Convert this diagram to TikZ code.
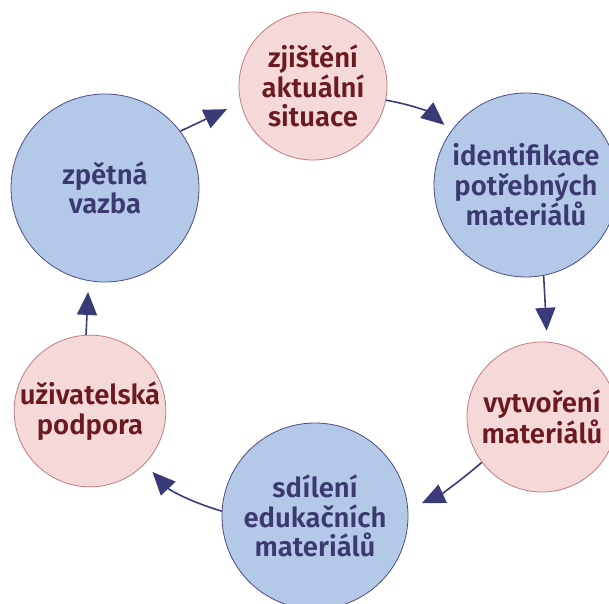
\documentclass[tikz,border=0pt]{standalone}
\usepackage{fontspec}
\setmainfont{Fira Sans}[BoldFont={Fira Sans SemiBold}]
\usetikzlibrary{arrows.meta}
\definecolor{pinkfill}{HTML}{F5D8D8}
\definecolor{pinkdraw}{HTML}{C47A7E}
\definecolor{pinktext}{HTML}{6B1A20}
\definecolor{bluefill}{HTML}{B4C8E8}
\definecolor{bluedraw}{HTML}{4C4C86}
\definecolor{bluetext}{HTML}{3A3970}
\definecolor{arrowcol}{HTML}{3B3A78}
\begin{document}
\begin{tikzpicture}[x=1pt,y=1pt,
  bubble/.style={circle, minimum size=#1, inner sep=0pt, align=center,
    line width=0.8pt, font=\fontsize{27.5}{29.5}\selectfont\bfseries},
  pinknode/.style={bubble=#1, fill=pinkfill, draw=pinkdraw, text=pinktext},
  bluenode/.style={bubble=#1, fill=bluefill, draw=bluedraw, text=bluetext},
  arr/.style={draw=arrowcol, line width=1.6pt,
    -{Triangle[length=23pt,width=20pt]}}
]
\useasboundingbox (0,0) rectangle (609,603);
\node[pinknode=148pt] (A) at (313,517) {zjištění\\aktuální\\situace};
\node[bluenode=184pt] (B) at (526,418) {identifikace\\potřebných\\materiálů};
\node[pinknode=150pt] (C) at (542,186) {vytvoření\\materiálů};
\node[bluenode=186pt] (D) at (315,87) {sdílení\\edukačních\\materiálů};
\node[pinknode=150pt] (E) at (90,192) {uživatelská\\podpora};
\node[bluenode=188pt] (F) at (105,415) {zpětná\\vazba};
\draw[arr, shorten >=15pt] (F.37) -- (A.193);
\draw[arr, shorten >=9pt] (A.-11) to[bend left=15] (B.144);
\draw[arr, shorten >=11pt] (B.-79) -- (C.86);
\draw[arr, shorten >=15pt] (C.217) to[bend left=8] (D.4);
\draw[arr, shorten >=11pt] (D.177) to[bend left=15] (E.-44);
\draw[arr, shorten >=11pt] (E.93) -- (F.260);
\end{tikzpicture}
\end{document}
